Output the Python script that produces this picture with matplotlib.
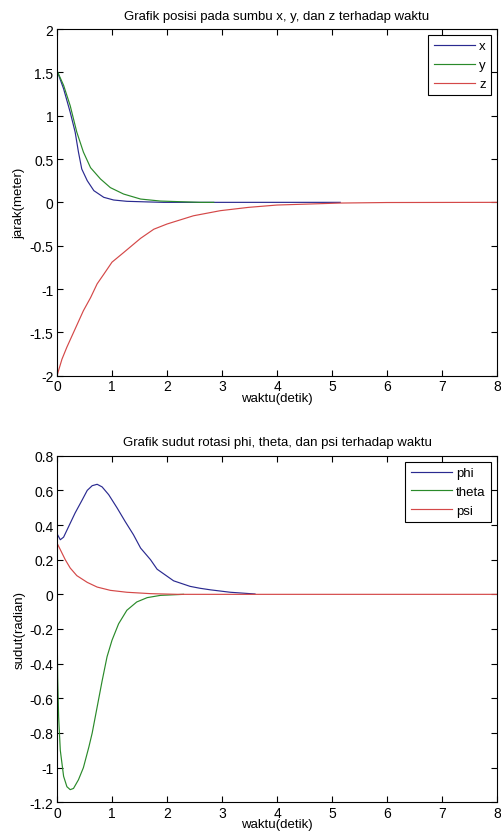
import matplotlib
matplotlib.use("Agg")
import matplotlib.pyplot as plt

# ---- data (top: position) ----
t_x = [0, 0.12, 0.24, 0.33, 0.39, 0.45, 0.55, 0.67, 0.85, 1.03, 1.27, 1.64, 1.94, 3.0, 5.15]
x_val = [1.52, 1.31, 1.04, 0.81, 0.58, 0.385, 0.25, 0.135, 0.058, 0.027, 0.012, 0.005, 0.0, 0.0, 0.0]

t_y = [0, 0.12, 0.24, 0.36, 0.48, 0.61, 0.79, 0.97, 1.21, 1.52, 1.88, 2.6, 2.85]
y_val = [1.52, 1.35, 1.115, 0.81, 0.58, 0.40, 0.27, 0.17, 0.096, 0.038, 0.015, 0.0, 0.0]

t_z = [0, 0.09, 0.18, 0.33, 0.48, 0.61, 0.73, 0.85, 1.0, 1.21, 1.52, 1.76, 2.0, 2.48, 2.97, 3.48, 4.0, 5.15, 6.0, 8.0]
z_val = [-2.0, -1.81, -1.67, -1.46, -1.25, -1.10, -0.94, -0.83, -0.69, -0.58, -0.415, -0.31, -0.25, -0.155, -0.096, -0.058, -0.031, -0.008, -0.002, 0.0]

# ---- data (bottom: rotation) ----
t_phi = [0, 0.06, 0.12, 0.21, 0.33, 0.45, 0.55, 0.64, 0.73, 0.82, 0.94, 1.09, 1.24, 1.39, 1.52, 1.70, 1.82, 2.12, 2.42, 2.6, 2.79, 3.15, 3.6]
phi_val = [0.35, 0.315, 0.33, 0.39, 0.47, 0.54, 0.60, 0.627, 0.635, 0.62, 0.575, 0.50, 0.42, 0.344, 0.267, 0.20, 0.145, 0.078, 0.046, 0.035, 0.026, 0.012, 0.002]

t_theta = [0, 0.012, 0.03, 0.06, 0.12, 0.18, 0.24, 0.30, 0.39, 0.48, 0.58, 0.64, 0.73, 0.82, 0.91, 1.0, 1.12, 1.27, 1.45, 1.64, 1.88, 2.3]
theta_val = [-0.11, -0.48, -0.71, -0.90, -1.05, -1.11, -1.127, -1.12, -1.07, -1.0, -0.88, -0.80, -0.65, -0.50, -0.36, -0.265, -0.17, -0.092, -0.044, -0.019, -0.006, 0.0]

t_psi = [0, 0.06, 0.15, 0.24, 0.36, 0.55, 0.73, 0.97, 1.27, 1.70, 2.2, 8.0]
psi_val = [0.296, 0.258, 0.20, 0.152, 0.108, 0.069, 0.042, 0.023, 0.012, 0.004, 0.0, 0.0]

xticks = [0, 1, 2, 3, 4, 5, 6, 7, 8]
yticks_top = [-2, -1.5, -1, -0.5, 0, 0.5, 1, 1.5, 2]
ylabels_top = ['-2', '-1.5', '-1', '-0.5', '0', '0.5', '1', '1.5', '2']
yticks_bot = [-1.2, -1, -0.8, -0.6, -0.4, -0.2, 0, 0.2, 0.4, 0.6, 0.8]
ylabels_bot = ['-1.2', '-1', '-0.8', '-0.6', '-0.4', '-0.2', '0', '0.2', '0.4', '0.6', '0.8']

plt.rcParams['font.family'] = ['Liberation Sans', 'DejaVu Sans']

C_B = '#2a2a90'
C_G = '#2a8a2a'
C_R = '#d44848'
LW = 0.85

fig = plt.figure(figsize=(5.01, 8.37), dpi=100)
ax1 = fig.add_axes([57/501, 1-376.7/837, 440/501, 346.7/837])
ax2 = fig.add_axes([57/501, 1-803.3/837, 440/501, 346.6/837])

ax1.plot(t_x, x_val, color=C_B, lw=LW, label='x')
ax1.plot(t_y, y_val, color=C_G, lw=LW, label='y')
ax1.plot(t_z, z_val, color=C_R, lw=LW, label='z')
ax1.set_xlim(0, 8)
ax1.set_ylim(-2, 2)
ax1.set_yticks(yticks_top)
ax1.set_yticklabels(ylabels_top)
ax1.set_title('Grafik posisi pada sumbu x, y, dan z terhadap waktu', fontsize=9.5, pad=7)
ax1.set_ylabel('jarak(meter)', fontsize=9.5, labelpad=3)
ax1.set_xlabel('waktu(detik)', fontsize=9.5, labelpad=-1)

ax2.plot(t_phi, phi_val, color=C_B, lw=LW, label='phi')
ax2.plot(t_theta, theta_val, color=C_G, lw=LW, label='theta')
ax2.plot(t_psi, psi_val, color=C_R, lw=LW, label='psi')
ax2.set_xlim(0, 8)
ax2.set_ylim(-1.2, 0.8)
ax2.set_yticks(yticks_bot)
ax2.set_yticklabels(ylabels_bot)
ax2.set_title('Grafik sudut rotasi phi, theta, dan psi terhadap waktu', fontsize=9.5, pad=7.5)
ax2.set_ylabel('sudut(radian)', fontsize=9.5, labelpad=3)
ax2.set_xlabel('waktu(detik)', fontsize=9.5, labelpad=-1)

for ax in (ax1, ax2):
    ax.set_xticks(xticks)
    ax.set_xticklabels([str(v) for v in xticks])
    ax.tick_params(direction='in', top=True, right=True, length=4, width=0.8,
                   labelsize=10, pad=2.5)
    for s in ax.spines.values():
        s.set_linewidth(0.8)
    leg = ax.legend(loc='upper right', fancybox=False, edgecolor='black',
                    framealpha=1, fontsize=9.5, handlelength=3.1, handletextpad=0.35,
                    borderaxespad=0.45, borderpad=0.4, labelspacing=0.5)
    leg.get_frame().set_linewidth(0.8)

fig.savefig('out.png', dpi=100)
